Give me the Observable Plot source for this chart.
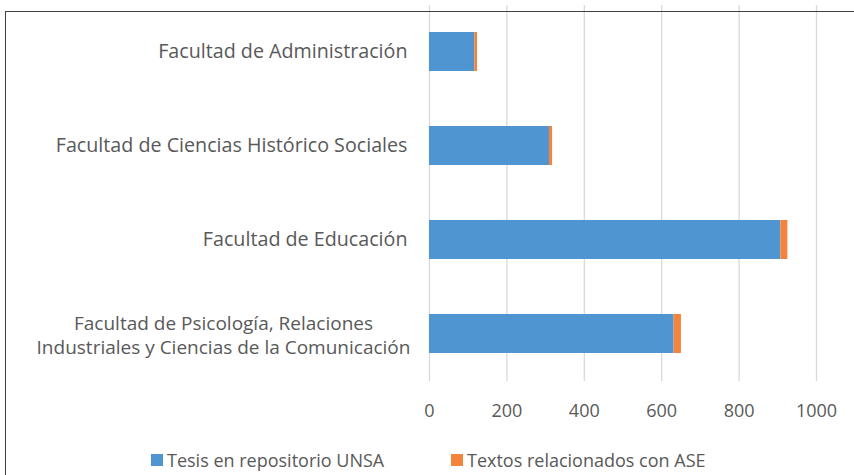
<!DOCTYPE html>
<html>
<head>
<meta charset="utf-8">
<script src="https://cdn.jsdelivr.net/npm/d3@7"></script>
<script src="https://cdn.jsdelivr.net/npm/@observablehq/plot@0.6"></script>
<style>
  html, body { margin: 0; padding: 0; background: #fff; }
  body { width: 854px; height: 475px; position: relative; overflow: hidden; font-family: "Open Sans", sans-serif; }
  #frame { position: absolute; left: 5px; top: 11px; width: 900px; height: 500px; border-left: 1px solid #404040; border-top: 1px solid #404040; pointer-events: none; }
  #chart { position: absolute; left: 0; top: 0; }
  #legend { position: absolute; top: 448px; left: 0; width: 854px; font-size: 18px; color: #595959; line-height: 24px; }
  .item { position: absolute; top: 0; display: flex; align-items: center; }
  .sw { width: 12px; height: 12px; margin-right: 4px; }
</style>
</head>
<body>
<div id="chart"></div>
<div id="frame"></div>
<div id="legend">
  <div class="item" style="left:151px"><span class="sw" style="background:#4e95d1"></span><span>Tesis en repositorio UNSA</span></div>
  <div class="item" style="left:451px"><span class="sw" style="background:#f4843c"></span><span>Textos relacionados con ASE</span></div>
</div>
<script>
const categories = [
  "Facultad de Administración",
  "Facultad de Ciencias Histórico Sociales",
  "Facultad de Educación",
  "Facultad de Psicología, Relaciones\nIndustriales y Ciencias de la Comunicación"
];
const series = ["Tesis en repositorio UNSA", "Textos relacionados con ASE"];
const tesis = [117, 310, 908, 632];
const textos = [7, 8, 18, 19];
const xTicks = [0, 200, 400, 600, 800, 1000];
const colors = ["#4e95d1", "#f4843c"];

const data = [];
categories.forEach((c, i) => {
  data.push({cat: c, serie: series[0], value: tesis[i]});
  data.push({cat: c, serie: series[1], value: textos[i]});
});

const lastCat = categories[categories.length - 1];

const chart = Plot.plot({
  width: 854,
  height: 440,
  marginLeft: 429,
  marginRight: 38,
  marginTop: 5,
  marginBottom: 59,
  style: {fontFamily: "'Open Sans', sans-serif", fontSize: "19px", color: "#595959", background: "#fff"},
  x: {domain: [0, 1000], ticks: xTicks},
  y: {domain: categories, paddingInner: 0.585, paddingOuter: 0.2925},
  color: {domain: series, range: colors},
  marks: [
    Plot.gridX(xTicks, {stroke: "#d9d9d9", strokeOpacity: 1, strokeWidth: 1.3}),
    Plot.barX(data, Plot.stackX({x: "value", y: "cat", fill: "serie", order: series})),
    Plot.axisX({ticks: xTicks, tickSize: 0, tickPadding: 23, fontSize: 18, label: null, tickFormat: d => String(d)}),
    Plot.axisY(categories.slice(0, -1), {tickSize: 0, tickPadding: 22, fontSize: 19.7, label: null}),
    Plot.text([lastCat], {y: d => d, text: d => d, frameAnchor: "left", dx: -206, textAnchor: "middle", fontSize: 19, lineHeight: 1.3, fill: "#595959"})
  ]
});
document.getElementById("chart").appendChild(chart);
</script>
</body>
</html>
